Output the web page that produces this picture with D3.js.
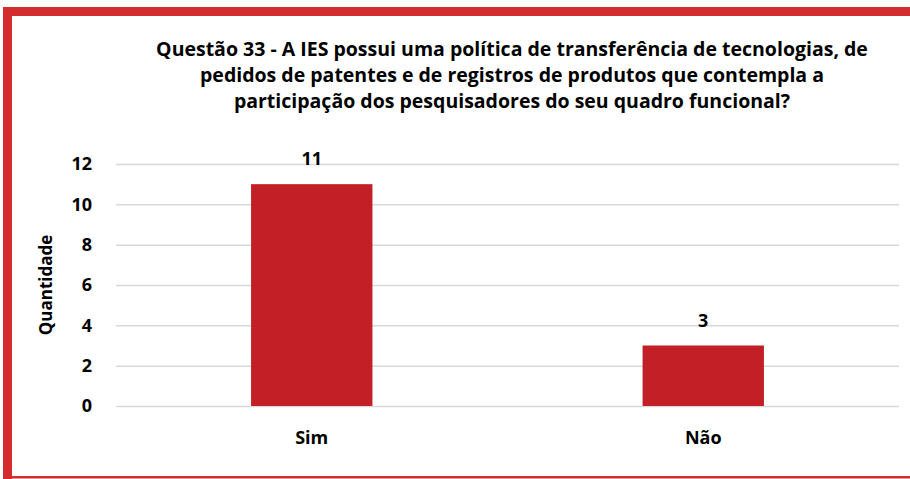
<!DOCTYPE html>
<html>
<head>
	<script src="https://d3js.org/d3.v7.min.js"></script>
	<style>
		body { margin: 0; background: #fff; }
		text { font-family: 'Open Sans', sans-serif; font-weight: bold; fill: #000; }
	</style>
</head>
<body>
	<svg id="chart" width="910" height="479"></svg>
	<script type="text/javascript">

		// data
		var categories = ['Sim', 'Não'];
		var values = [11, 3];
		var yTicks = [0, 2, 4, 6, 8, 10, 12];
		var titleLines = [
			'Questão 33 - A IES possui uma política de transferência de tecnologias, de',
			'pedidos de patentes e de registros de produtos que contempla a',
			'participação dos pesquisadores do seu quadro funcional?'
		];

		var svg = d3.select('#chart');
		var frameColor = '#d42d2f', barColor = '#c21f27';

		// frame round the chart (open on the right)
		svg.append('rect').attr('x', 3).attr('y', 7).attr('width', 907).attr('height', 9).attr('fill', frameColor);
		svg.append('rect').attr('x', 3).attr('y', 7).attr('width', 9).attr('height', 472).attr('fill', frameColor);
		svg.append('rect').attr('x', 3).attr('y', 476).attr('width', 907).attr('height', 2.5).attr('fill', frameColor);

		var plotLeft = 116, plotRight = 899, plotTop = 164, plotBottom = 406;

		var xScale = d3.scaleBand()
			.domain(categories)
			.range([plotLeft, plotRight])
			.paddingInner(0.69)
			.paddingOuter(0.345);
		var yScale = d3.scaleLinear()
			.domain([0, 12])
			.range([plotBottom, plotTop]);

		// title
		svg.append('text')
			.attr('text-anchor', 'middle')
			.attr('font-size', 19.5)
			.selectAll('tspan')
			.data(titleLines)
			.enter().append('tspan')
			.attr('x', 512)
			.attr('y', (d, i) => 56 + i * 26)
			.text(d => d);

		// grid lines + y labels
		svg.append('g')
			.attr('transform', 'translate(' + plotLeft + ',0)')
			.call(d3.axisLeft(yScale).tickValues(yTicks).tickSize(-(plotRight - plotLeft)).tickPadding(24))
			.call(g => g.select('.domain').remove())
			.call(g => g.selectAll('.tick line').attr('stroke', '#d9d9d9').attr('stroke-width', 1.5))
			.call(g => g.selectAll('.tick text').attr('font-size', 18).attr('font-family', "'Open Sans', sans-serif").attr('font-weight', 'bold').attr('fill', '#000'));

		svg.append('text')
			.attr('transform', 'translate(52,285) rotate(-90)')
			.attr('text-anchor', 'middle')
			.attr('font-size', 17)
			.text('Quantidade');

		// bars
		svg.selectAll('.bar')
			.data(values)
			.enter().append('rect')
			.attr('class', 'bar')
			.attr('x', (d, i) => xScale(categories[i]))
			.attr('y', d => yScale(d))
			.attr('width', xScale.bandwidth())
			.attr('height', d => yScale(0) - yScale(d))
			.attr('fill', barColor);

		// value labels
		svg.selectAll('.val')
			.data(values)
			.enter().append('text')
			.attr('class', 'val')
			.attr('x', (d, i) => xScale(categories[i]) + xScale.bandwidth() / 2)
			.attr('y', d => yScale(d) - 19)
			.attr('text-anchor', 'middle')
			.attr('font-size', 18)
			.text(d => d);

		// x axis labels
		svg.append('g')
			.attr('transform', 'translate(0,' + plotBottom + ')')
			.call(d3.axisBottom(xScale).tickSize(0).tickPadding(25))
			.call(g => g.select('.domain').remove())
			.call(g => g.selectAll('.tick text').attr('font-size', 18).attr('font-family', "'Open Sans', sans-serif").attr('font-weight', 'bold').attr('fill', '#000'));

	</script>
</body>
</html>
